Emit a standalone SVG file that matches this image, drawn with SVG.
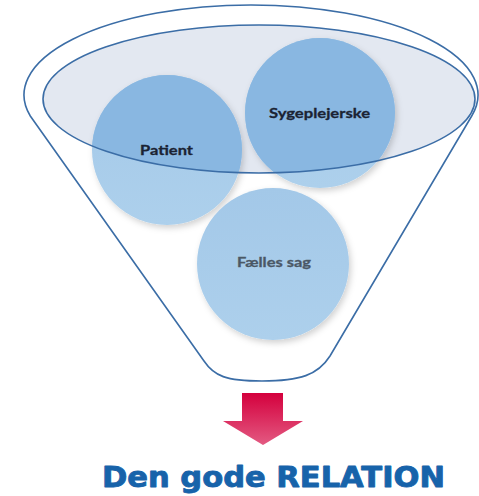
<svg xmlns="http://www.w3.org/2000/svg" width="479" height="496" viewBox="0 0 479 496">
<style>
.ln{fill:none;stroke:#3b6da6;stroke-width:1.6}
.circ{fill:url(#cg);filter:url(#sh)}
.inner{fill:#89b7e1}
.lbl{font-family:Lato,"Open Sans","Liberation Sans",sans-serif;font-weight:bold;font-size:14px;stroke-width:0.3}
.ttl{font-family:"DejaVu Sans","Liberation Sans",sans-serif;font-weight:bold;font-size:28px;fill:#1763aa;stroke:#1763aa;stroke-width:0.9;stroke-linejoin:round}
</style>
<defs>
<linearGradient id="cg" x1="0" y1="0" x2="0" y2="1">
<stop offset="0" stop-color="#a3c8e8"/>
<stop offset="1" stop-color="#add0ec"/>
</linearGradient>
<linearGradient id="ag" x1="0" y1="0" x2="0" y2="1">
<stop offset="0" stop-color="#d4003d"/>
<stop offset="1" stop-color="#e35a82"/>
</linearGradient>
<filter id="sh" x="-20%" y="-20%" width="150%" height="150%">
<feDropShadow dx="2" dy="3" stdDeviation="3" flood-color="#000" flood-opacity="0.18"/>
</filter>
<ellipse id="ell" cx="259" cy="99" rx="216" ry="74"/>
<clipPath id="inEll"><use href="#ell"/></clipPath>
</defs>
<g id="funnel">
<path class="ln" d="M 30.3,116 A 227 90 0 1 1 471.7,116 L 330,356 C 318,375 300,381 262,381 C 226,381 214,376 204,361 Z"/>
</g>
<g id="relation-area">
<use href="#ell" fill="#e3e8f1"/>
</g>
<g id="patient">
<circle class="circ" cx="167" cy="150" r="75"/>
<circle class="inner" cx="167" cy="150" r="75" clip-path="url(#inEll)"/>
</g>
<g id="sygeplejerske">
<circle class="circ" cx="320" cy="113" r="75"/>
<circle class="inner" cx="320" cy="113" r="75" clip-path="url(#inEll)"/>
</g>
<g id="faelles-sag">
<circle class="circ" cx="273" cy="264" r="76"/>
<text class="lbl" x="237" y="267" fill="#4b5866" stroke="#4b5866" textLength="74" lengthAdjust="spacingAndGlyphs">Fælles sag</text>
</g>
<g id="relation-outline">
<use href="#ell" class="ln"/>
</g>
<g id="labels">
<text class="lbl" x="140" y="155" fill="#1b2333" stroke="#1b2333" textLength="53" lengthAdjust="spacingAndGlyphs">Patient</text>
<text class="lbl" x="269" y="118" fill="#1b2333" stroke="#1b2333" textLength="101" lengthAdjust="spacingAndGlyphs">Sygeplejerske</text>
</g>
<g id="connectors">
<path d="M 242,393 L 283,393 L 283,421 L 303,421 L 263,445 L 223,421 L 242,421 Z" fill="url(#ag)"/>
</g>
<g id="result">
<text class="ttl" x="102" y="487" textLength="343" lengthAdjust="spacingAndGlyphs">Den gode RELATION</text>
</g>
</svg>
